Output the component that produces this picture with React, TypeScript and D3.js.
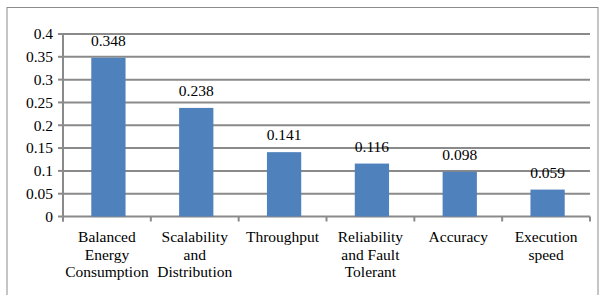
import React from "react";
import * as d3 from "d3";

const categories = [
  ["Balanced", "Energy", "Consumption"],
  ["Scalability", "and", "Distribution"],
  ["Throughput"],
  ["Reliability", "and Fault", "Tolerant"],
  ["Accuracy"],
  ["Execution", "speed"],
];
const values = [0.348, 0.238, 0.141, 0.116, 0.098, 0.059];
const yTicks = [0, 0.05, 0.1, 0.15, 0.2, 0.25, 0.3, 0.35, 0.4];
const yTickLabels = ["0", "0.05", "0.1", "0.15", "0.2", "0.25", "0.3", "0.35", "0.4"];

export default function App() {
  const width = 600;
  const height = 295;
  const margin = { top: 34, right: 10, bottom: 78, left: 63 };
  const font = "Liberation Serif, Times New Roman, serif";
  const fs = 15.5;

  const x = d3
    .scaleBand<number>()
    .domain(d3.range(values.length))
    .range([margin.left, width - margin.right])
    .paddingInner(0.61)
    .paddingOuter(0.305);
  const band = d3
    .scaleBand<number>()
    .domain(d3.range(values.length))
    .range([margin.left, width - margin.right]);
  const y = d3
    .scaleLinear()
    .domain([0, 0.4])
    .range([height - margin.bottom - 0.5, margin.top]);

  return (
    <svg
      width={width}
      height={height}
      style={{ position: "absolute", left: 0, top: 0, background: "#fff", fontFamily: font }}
    >
      {/* outer frame */}
      <rect x={7} y={7.5} width={591} height={300} fill="none" stroke="#8c8c8c" strokeWidth={1} />

      {/* gridlines */}
      {yTicks.map((t) => (
        <line
          key={t}
          x1={margin.left}
          x2={width - margin.right}
          y1={y(t)}
          y2={y(t)}
          stroke="#8a8a8a"
          strokeWidth={2}
        />
      ))}

      {/* bars */}
      {values.map((v, i) => (
        <rect
          key={i}
          x={x(i)! + 1.5}
          y={y(v)}
          width={x.bandwidth()}
          height={y(0) - y(v)}
          fill="#4f81bd"
        />
      ))}

      {/* y axis */}
      <line x1={margin.left} x2={margin.left} y1={margin.top} y2={y(0) + 5} stroke="#8a8a8a" strokeWidth={2} />
      {yTicks.map((t, i) => (
        <g key={t}>
          <line x1={margin.left - 5} x2={margin.left} y1={y(t)} y2={y(t)} stroke="#8a8a8a" strokeWidth={2} />
          <text x={margin.left - 10} y={y(t)} dy="0.35em" textAnchor="end" fontSize={fs} fill="#000">
            {yTickLabels[i]}
          </text>
        </g>
      ))}

      {/* x axis ticks */}
      {d3.range(values.length + 1).map((i) => {
        const xx = margin.left + i * band.bandwidth();
        return <line key={i} x1={xx} x2={xx} y1={y(0)} y2={y(0) + 5} stroke="#8a8a8a" strokeWidth={2} />;
      })}

      {/* value labels */}
      {values.map((v, i) => (
        <text
          key={i}
          x={x(i)! + 1.5 + x.bandwidth() / 2}
          y={y(v) - 12}
          textAnchor="middle"
          fontSize={fs}
          fill="#000"
        >
          {v.toFixed(3)}
        </text>
      ))}

      {/* category labels */}
      {categories.map((lines, i) => (
        <text key={i} y={242} textAnchor="middle" fontSize={fs} fill="#000">
          {lines.map((l, j) => (
            <tspan key={j} x={band(i)! + band.bandwidth() / 2} dy={j === 0 ? 0 : 17.5}>
              {l}
            </tspan>
          ))}
        </text>
      ))}
    </svg>
  );
}
